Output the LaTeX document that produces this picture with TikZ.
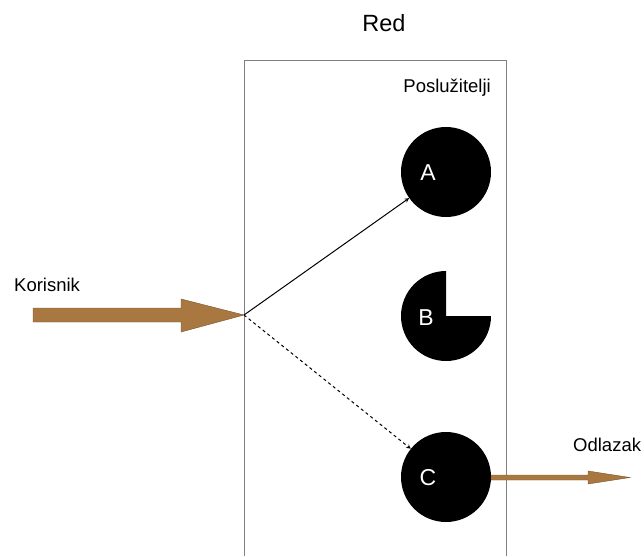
\documentclass[tikz,border=0pt]{standalone}
\usepackage{fontspec}
\setmainfont{Liberation Sans}
\definecolor{brownarrow}{HTML}{A97841}
\begin{document}
\begin{tikzpicture}[x=1pt,y=-1pt,
  server/.style={circle,fill=black,minimum size=90pt,inner sep=0pt},
  lbl/.style={text=white,font=\fontsize{23}{26}\selectfont},
  txt/.style={font=\fontsize{18.5}{21}\selectfont,inner sep=0pt},
  conn/.style={-stealth,line width=1pt},
  fat/.style={fill=brownarrow,draw=brownarrow!70!black,line width=0.4pt}]
\useasboundingbox (0,0) rectangle (644,556);
% queue box
\draw[gray,line width=0.7pt] (244,556) -- (244,60) -- (506,60) -- (506,556);
\node[font=\fontsize{23.5}{27}\selectfont,inner sep=0pt] (red) at (384,23) {Red};
\node[txt,anchor=east] (pos) at (491,88) {Poslužitelji};
% servers
\node[server] (A) at (446,172) {};
\node[lbl] at (428,173) {A};
\fill[black] (446,316) -- (446,271) arc[start angle=270,end angle=0,radius=45] -- cycle;
\coordinate (B) at (446,316);
\node[lbl] at (426,318) {B};
\node[server] (C) at (446,477) {};
\node[lbl] at (428,478) {C};
% incoming
\coordinate (in) at (244,315);
\draw[fat] (33,308) -- (181,308) -- (181,299) -- (in) -- (181,332) -- (181,322) -- (33,322) -- cycle;
\node[txt,anchor=west] (kor) at (14,285) {Korisnik};
\draw[conn] (in) -- (A);
\draw[conn,dashed] (in) -- (C);
% outgoing
\draw[fat] (491,475) -- (588,475) -- (588,471) -- (630,477.5) -- (588,484) -- (588,480) -- (491,480) -- cycle;
\node[txt,anchor=west] (odl) at (573,445) {Odlazak};
\end{tikzpicture}
\end{document}
